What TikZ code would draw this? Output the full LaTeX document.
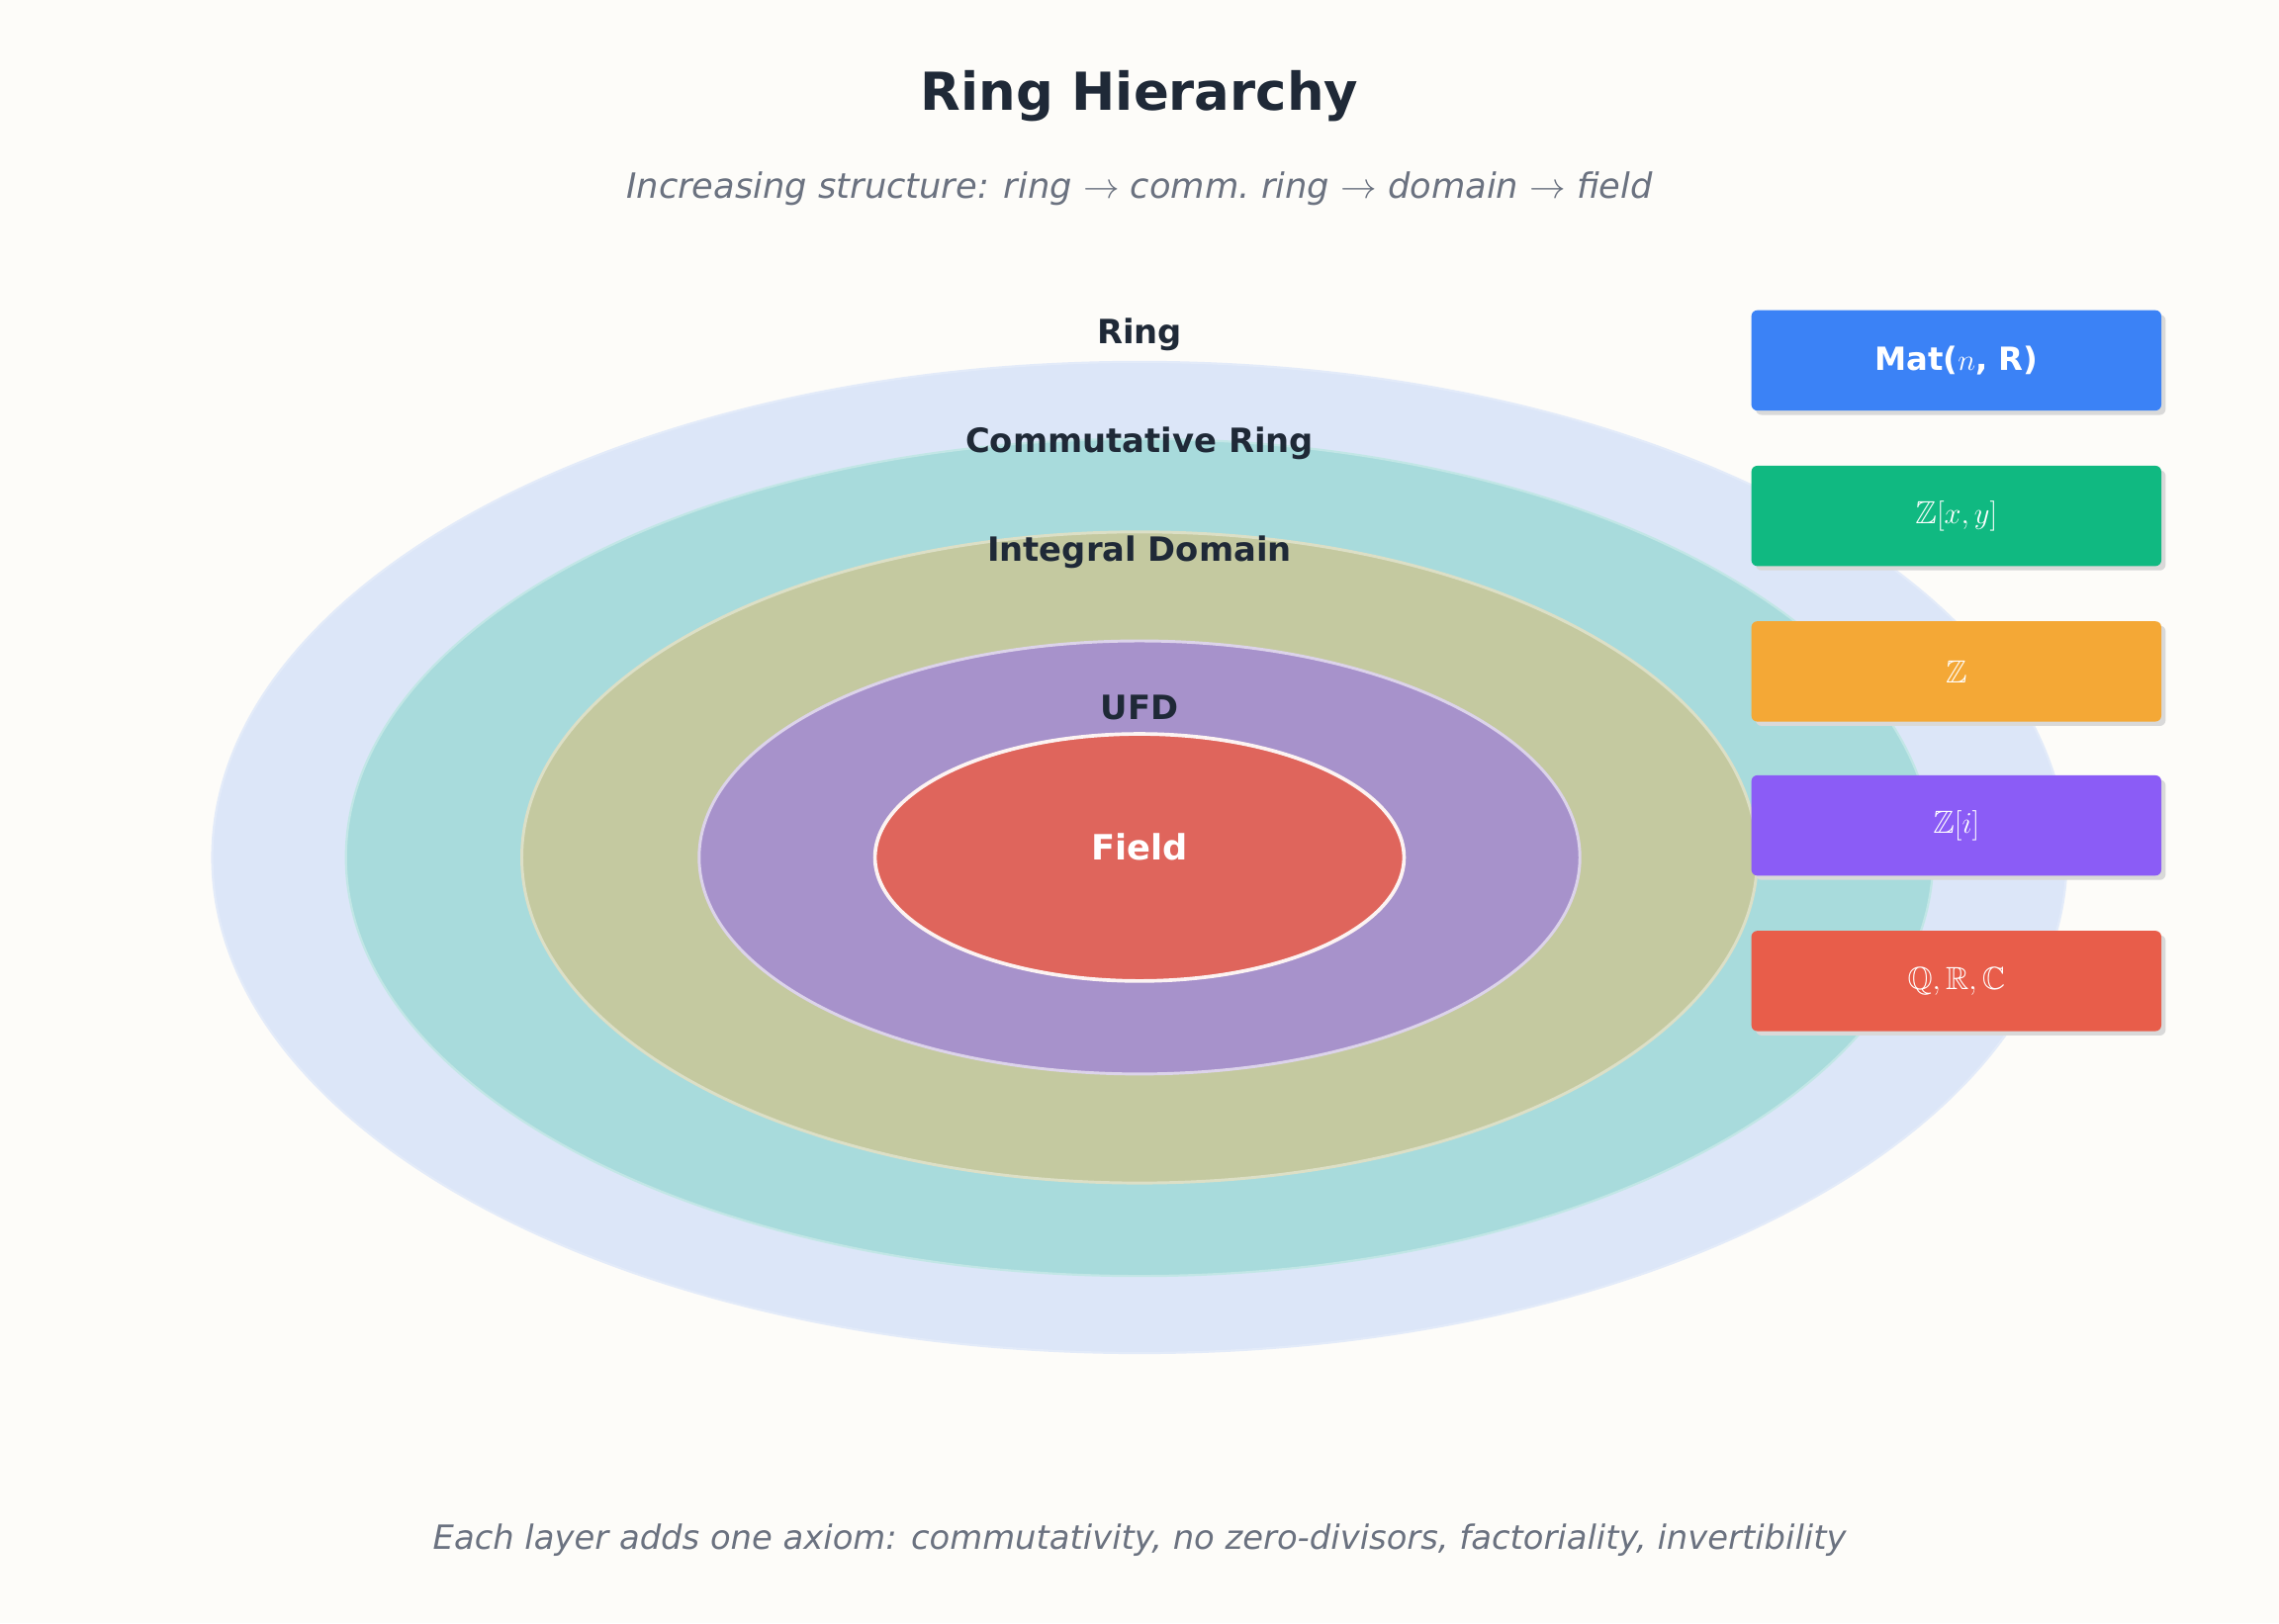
\documentclass[tikz,border=0pt]{standalone}
\usepackage{amssymb}
\usepackage{fontspec}
\setmainfont{DejaVu Sans}
\begin{document}
\begin{tikzpicture}[x=1pt,y=-1pt,
 lay/.style={font=\fontsize{23}{26}\selectfont\bfseries,text=titc},
 ex/.style={rounded corners=4pt,minimum width=282pt,minimum height=69pt,text=white,font=\fontsize{22}{26}\selectfont},
]
\definecolor{bg}{HTML}{FDFCF9}
\definecolor{titc}{HTML}{1F2937}
\definecolor{sub}{HTML}{6B7280}
\definecolor{c1}{HTML}{DCE6F8}
\definecolor{c2}{HTML}{A8DBDC}
\definecolor{c3}{HTML}{C4C9A0}
\definecolor{c4}{HTML}{A792CB}
\definecolor{c5}{HTML}{DF655C}
\definecolor{b1}{HTML}{3B82F6}
\definecolor{b2}{HTML}{10B981}
\definecolor{b3}{HTML}{F4A836}
\definecolor{b4}{HTML}{8B5CF6}
\definecolor{b5}{HTML}{E85D4A}
\fill[bg] (0,0) rectangle (1568,1117);
\useasboundingbox (0,0) rectangle (1568,1117);
\node[font=\fontsize{36}{40}\selectfont\bfseries,text=titc] (title) at (784,66) {Ring Hierarchy};
\node[font=\fontsize{24}{28}\selectfont\itshape,text=sub] (subt) at (784,130) {Increasing structure: ring $\rightarrow$ comm.\ ring $\rightarrow$ domain $\rightarrow$ field};
\fill[c1,draw=c1!80!white,line width=1.5pt] (784,590) ellipse [x radius=638,y radius=341];
\fill[c2,draw=c2!70!white,line width=1.5pt] (784,590) ellipse [x radius=546,y radius=288];
\fill[c3,draw=c3!60!white,line width=2pt] (784,590) ellipse [x radius=425,y radius=224];
\fill[c4,draw=c4!40!white,line width=2pt] (784,590) ellipse [x radius=303,y radius=149];
\fill[c5,draw=white!92!c5,line width=2.5pt] (784,590) ellipse [x radius=182,y radius=85];
\node[lay] (lring) at (784,230) {Ring};
\node[lay] (lcomm) at (784,305) {Commutative Ring};
\node[lay] (ldom) at (784,380) {Integral Domain};
\node[lay] (lufd) at (784,487) {UFD};
\node[lay,text=white,font=\fontsize{24}{28}\selectfont\bfseries] (lfield) at (784,583) {Field};
\foreach \y/\c/\n in {248/b1/e1,355/b2/e2,462/b3/e3,568/b4/e4,675/b5/e5}{
 \fill[black!15,rounded corners=4pt] (1208,\y-31.5) rectangle (1490,\y+37.5);
 \node[ex,fill=\c] (\n) at (1346,\y) {};
}
\node[text=white,font=\fontsize{22}{26}\selectfont\bfseries] at (e1) {Mat($n$, R)};
\node[text=white,font=\fontsize{22}{26}\selectfont] at (e2) {$\mathbb{Z}[x,y]$};
\node[text=white,font=\fontsize{22}{26}\selectfont] at (e3) {$\mathbb{Z}$};
\node[text=white,font=\fontsize{22}{26}\selectfont] at (e4) {$\mathbb{Z}[i]$};
\node[text=white,font=\fontsize{22}{26}\selectfont] at (e5) {$\mathbb{Q},\mathbb{R},\mathbb{C}$};
\node[font=\fontsize{23}{27}\selectfont\itshape,text=sub] (foot) at (784,1060) {Each layer adds one axiom: commutativity, no zero-divisors, factoriality, invertibility};
\end{tikzpicture}
\end{document}
